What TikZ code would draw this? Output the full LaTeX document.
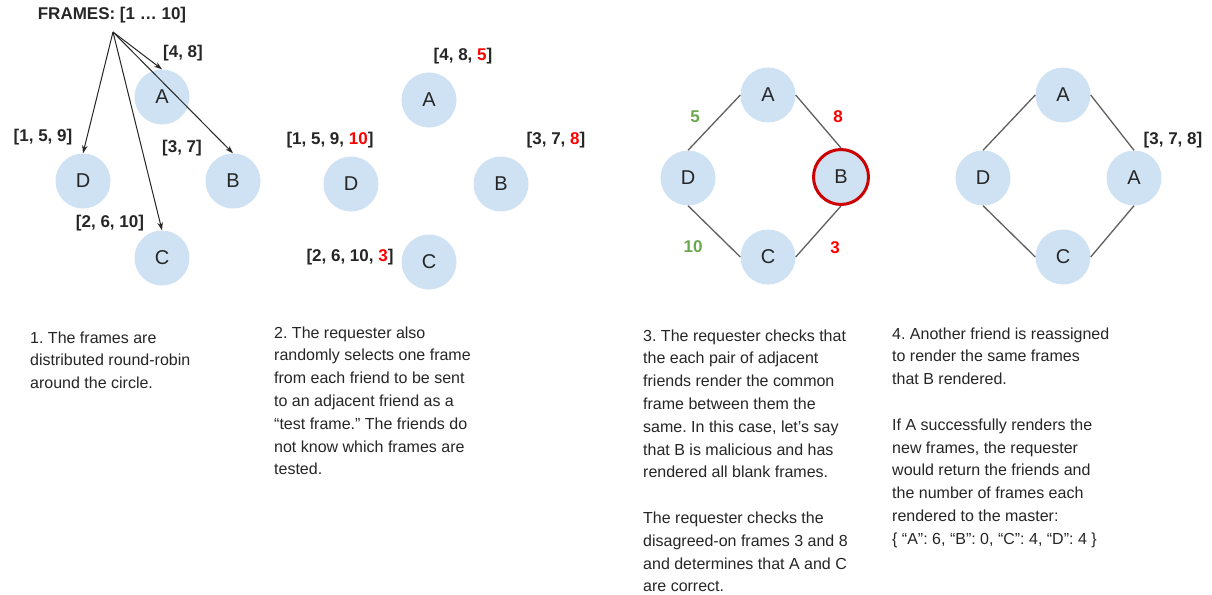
\documentclass[tikz,border=0pt]{standalone}
\usepackage{fontspec}
\setmainfont{Liberation Sans}
\usetikzlibrary{arrows.meta}
\frenchspacing
\definecolor{lblue}{HTML}{CFE2F3}
\definecolor{txt}{HTML}{262626}
\definecolor{redB}{HTML}{CC0000}
\definecolor{redL}{HTML}{FF0000}
\definecolor{grn}{HTML}{6AA84F}
\definecolor{edge}{HTML}{5F5F5F}
\tikzset{
  friend/.style={circle, fill=lblue, minimum size=55pt, inner sep=0pt, font=\fontsize{20}{24}\selectfont, text=txt},
  lbl/.style={font=\bfseries\fontsize{17}{20}\selectfont, text=txt, inner sep=0pt},
  body/.style={font=\fontsize{16}{22.8}\selectfont\frenchspacing, align=left, anchor=base west, inner sep=0pt, text=txt},
  arr/.style={draw=txt, line width=1pt, -{Stealth[length=8pt,width=5.5pt]}},
  link/.style={draw=edge, line width=1.3pt},
}
\begin{document}
\begin{tikzpicture}[x=1pt,y=-1pt]
\useasboundingbox[fill=white] (0,0) rectangle (1212,594);
% ---------- Panel 1 ----------
\node[friend] (A1) at (162,97) {A};
\node[friend] (D1) at (83,181) {D};
\node[friend] (B1) at (233,181) {B};
\node[friend] (C1) at (162,258) {C};
\node[lbl] (fr) at (112,15) {FRAMES: [1 … 10]};
\coordinate (src) at (113,32);
\draw[arr] (src) -- (A1.north);
\draw[arr] (src) -- (B1.north);
\draw[arr] (src) -- (D1.north);
\draw[arr] (src) -- (C1.north);
\node[lbl] (l1a) at (183,53) {[4, 8]};
\node[lbl] (l1d) at (43,137) {[1, 5, 9]};
\node[lbl] (l1b) at (182,148) {[3, 7]};
\node[lbl] (l1c) at (110,223) {[2, 6, 10]};
% ---------- Panel 2 ----------
\node[friend] (A2) at (429,100) {A};
\node[friend] (D2) at (351,184) {D};
\node[friend] (B2) at (501,184) {B};
\node[friend] (C2) at (429,262) {C};
\node[lbl] (l2a) at (463,56) {[4, 8, \textcolor{redL}{5}]};
\node[lbl] (l2d) at (330,140) {[1, 5, 9, \textcolor{redL}{10}]};
\node[lbl] (l2b) at (556,140) {[3, 7, \textcolor{redL}{8}]};
\node[lbl] (l2c) at (350,257) {[2, 6, 10, \textcolor{redL}{3}]};
% ---------- Panel 3 ----------
\node[friend] (A3) at (768,95) {A};
\node[friend] (D3) at (688,178) {D};
\node[friend, draw=redB, line width=3pt] (B3) at (841,177) {B};
\node[friend] (C3) at (768,257) {C};
\draw[link] (A3.west) -- (D3.north);
\draw[link] (A3.east) -- (B3.north);
\draw[link] (D3.south) -- (C3.west);
\draw[link] (C3.east) -- (B3.south);
\node[lbl, text=grn] (n5) at (695,117) {5};
\node[lbl, text=redL] (n8) at (838,117) {8};
\node[lbl, text=grn] (n10) at (693,247) {10};
\node[lbl, text=redL] (n3) at (835,248) {3};
% ---------- Panel 4 ----------
\node[friend] (A4) at (1063,95) {A};
\node[friend] (D4) at (983,178) {D};
\node[friend] (B4) at (1134,178) {A};
\node[friend] (C4) at (1063,257) {C};
\draw[link] (A4.west) -- (D4.north);
\draw[link] (A4.east) -- (B4.north);
\draw[link] (D4.south) -- (C4.west);
\draw[link] (C4.east) -- (B4.south);
\node[lbl] (l4) at (1173,140) {[3, 7, 8]};
% ---------- Texts (anchored at last baseline) ----------
\node[body] (t1) at (30,388.6) {1. The frames are\\distributed round-robin\\around the circle.};
\node[body] (t2) at (274,474.8) {2. The requester also\\randomly selects one frame\\from each friend to be sent\\to an adjacent friend as a\\“test frame.” The friends do\\not know which frames are\\tested.};
\node[body] (t3) at (643,591.8) {3. The requester checks that\\the each pair of adjacent\\friends render the common\\frame between them the\\same. In this case, let’s say\\that B is malicious and has\\rendered all blank frames.\\[22.8pt]The requester checks the\\disagreed-on frames 3 and 8\\and determines that A and C\\are correct.};
\node[body] (t4) at (892,544.2) {4. Another friend is reassigned\\to render the same frames\\that B rendered.\\[22.8pt]If A successfully renders the\\new frames, the requester\\would return the friends and\\the number of frames each\\rendered to the master:\\\{ “A”: 6, “B”: 0, “C”: 4, “D”: 4 \}};
\end{tikzpicture}
\end{document}
